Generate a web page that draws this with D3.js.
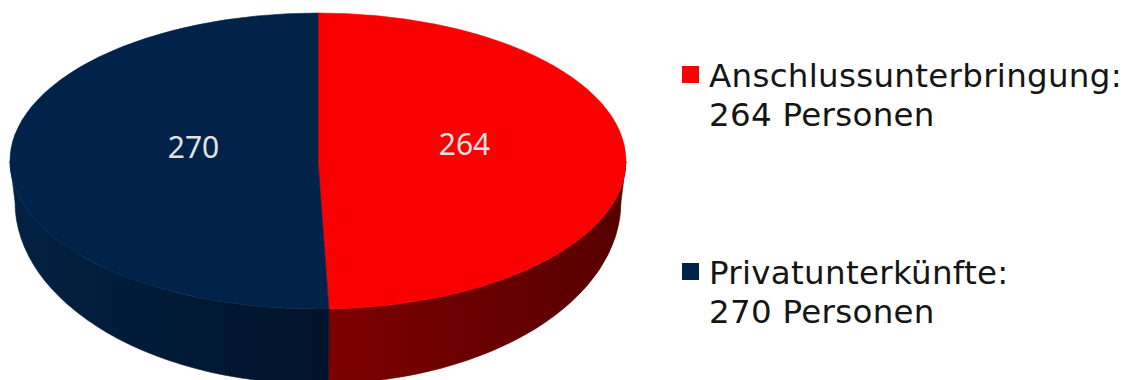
<!DOCTYPE html>
<html>
<head>
<meta charset="utf-8">
<script src="https://cdn.jsdelivr.net/npm/d3@7"></script>
<style>
  html, body { margin: 0; padding: 0; background: #ffffff; }
  svg { display: block; }
</style>
</head>
<body>
<svg id="chart" width="1130" height="380"></svg>
<script>
// Unterbringung – Anzahl der Personen
const categories = ["Anschlussunterbringung", "Privatunterkünfte"];
const values = [264, 270];
const topColors = ["#fb0000", "#01234a"];
// side wall shading, light -> dark (left to right)
const sideLight = ["#7e0000", "#022142"];
const sideDark = ["#560000", "#00132a"];
const unitLabel = "Personen";

const svg = d3.select("#chart");
const defs = svg.append("defs");

// top ellipse and (perspective) bottom ellipse of the disc
const topE = { cx: 318, cy: 161, rx: 308, ry: 148 };
const botE = { cx: 318, cy: 202, rx: 303, ry: 182 };
const labelRadius = 0.44;
const labelLift = 16;   // perspective: visual centre sits above the ellipse middle
const labelShift = 11;  // ... and slightly towards the front split

const pt = (e, a) => [e.cx + e.rx * Math.sin(a), e.cy - e.ry * Math.cos(a)];

const pie = d3.pie().sort(null).startAngle(0).endAngle(2 * Math.PI).value(d => d.value);
const data = categories.map((c, i) => ({ name: c, value: values[i], i }));
const arcs = pie(data);

// horizontal gradients for the side walls
arcs.forEach(a => {
  const g = defs.append("linearGradient")
    .attr("id", "side" + a.data.i)
    .attr("gradientUnits", "userSpaceOnUse")
    .attr("x1", topE.cx - topE.rx).attr("x2", topE.cx + topE.rx)
    .attr("y1", 0).attr("y2", 0);
  const x0 = topE.cx - topE.rx, span = 2 * topE.rx;
  const s = Math.max(a.startAngle, Math.PI / 2), e = Math.min(a.endAngle, 3 * Math.PI / 2);
  const xs = [pt(topE, s)[0], pt(topE, e)[0]].sort((p, q) => p - q);
  g.append("stop").attr("offset", (xs[0] - x0) / span).attr("stop-color", sideLight[a.data.i]);
  g.append("stop").attr("offset", (xs[1] - x0) / span).attr("stop-color", sideDark[a.data.i]);
});

const gSides = svg.append("g");
const gTops = svg.append("g");
const gLabels = svg.append("g");

// outer walls (front half only)
arcs.forEach(a => {
  const s = Math.max(a.startAngle, Math.PI / 2);
  const e = Math.min(a.endAngle, 3 * Math.PI / 2);
  if (e <= s) return;
  const t0 = pt(topE, s), t1 = pt(topE, e), b1 = pt(botE, e), b0 = pt(botE, s);
  const large = (e - s) > Math.PI ? 1 : 0;
  const dStr = `M${t0[0]},${t0[1]} A${topE.rx},${topE.ry} 0 ${large} 1 ${t1[0]},${t1[1]} ` +
    `L${b1[0]},${b1[1]} A${botE.rx},${botE.ry} 0 ${large} 0 ${b0[0]},${b0[1]} Z`;
  gSides.append("path")
    .attr("d", dStr)
    .attr("fill", `url(#side${a.data.i})`)
    .attr("stroke", `url(#side${a.data.i})`)
    .attr("stroke-width", 0.6);
});

// top faces
arcs.forEach(a => {
  const t0 = pt(topE, a.startAngle), t1 = pt(topE, a.endAngle);
  const large = (a.endAngle - a.startAngle) > Math.PI ? 1 : 0;
  gTops.append("path")
    .attr("d", `M${topE.cx},${topE.cy} L${t0[0]},${t0[1]} A${topE.rx},${topE.ry} 0 ${large} 1 ${t1[0]},${t1[1]} Z`)
    .attr("fill", topColors[a.data.i])
    .attr("stroke", topColors[a.data.i])
    .attr("stroke-width", 0.6)
    .attr("stroke-linejoin", "round");
});

// value labels on the top face
arcs.forEach(a => {
  const mid = (a.startAngle + a.endAngle) / 2;
  const x = topE.cx + labelShift + topE.rx * labelRadius * Math.sin(mid);
  const y = topE.cy - topE.ry * labelRadius * Math.cos(mid) - labelLift;
  gLabels.append("text")
    .attr("x", x).attr("y", y)
    .attr("text-anchor", "middle")
    .attr("dominant-baseline", "central")
    .attr("font-family", "'Noto Sans', 'Open Sans', sans-serif")
    .attr("font-size", 30)
    .attr("fill", "#e2e2e2")
    .text(a.data.value);
});

// legend
const legend = svg.append("g").attr("transform", "translate(682,0)");
const legendY = d3.scalePoint().domain(categories).range([87, 284]);
const item = legend.selectAll("g.item").data(data).join("g")
  .attr("class", "item")
  .attr("transform", d => `translate(0,${legendY(d.name)})`);
item.append("rect")
  .attr("x", 0).attr("y", -21).attr("width", 17).attr("height", 17)
  .attr("fill", d => topColors[d.i]);
const txt = item.append("text")
  .attr("font-family", "'DejaVu Sans', Verdana, sans-serif")
  .attr("font-size", 32.5)
  .attr("letter-spacing", 0.3)
  .attr("fill", "#151515");
txt.append("tspan").attr("x", 27).attr("y", 0).text(d => d.name + ":");
txt.append("tspan").attr("x", 27).attr("y", 39).text(d => `${d.value} ${unitLabel}`);
</script>
</body>
</html>
